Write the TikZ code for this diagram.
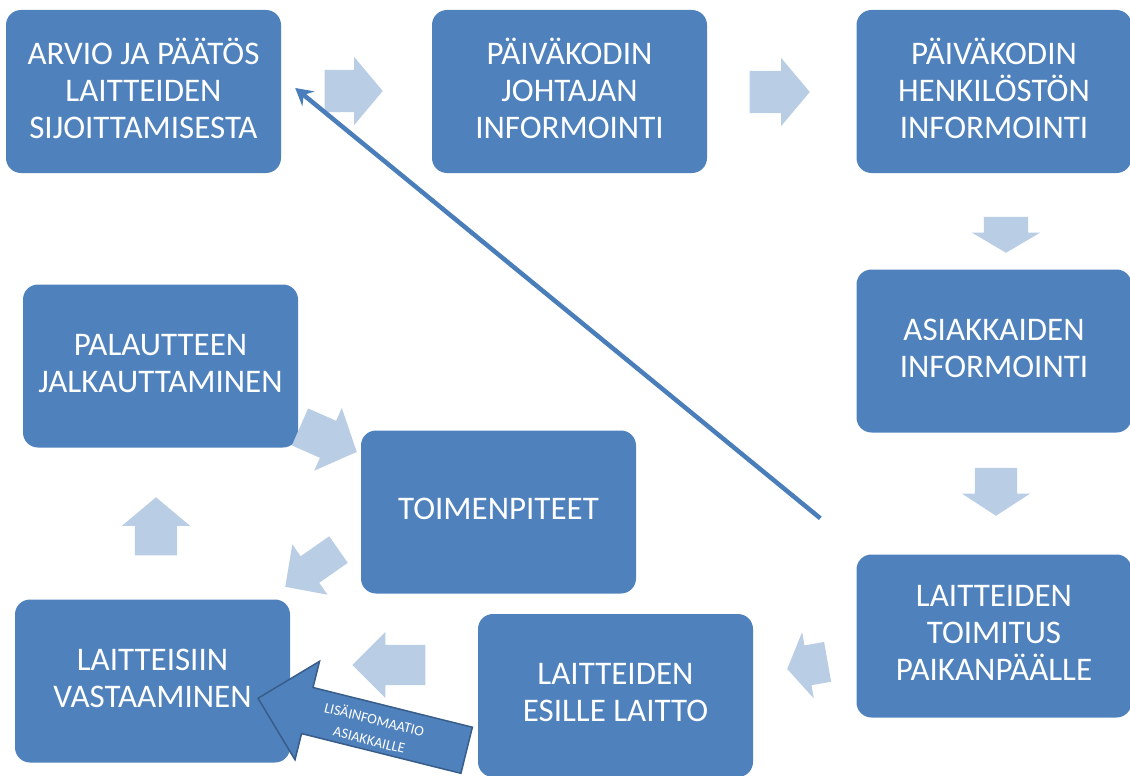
\documentclass[tikz,border=0pt]{standalone}
\usepackage{fontspec}
\setmainfont{Carlito}
\usetikzlibrary{positioning,calc,shapes.arrows,arrows.meta}
\definecolor{boxblue}{HTML}{4F81BD}
\definecolor{flowblue}{HTML}{B9CDE5}
\definecolor{edgeblue}{HTML}{385D8A}
\definecolor{lineblue}{HTML}{4A7EBB}

\begin{document}
\begin{tikzpicture}[x=1pt, y=-1pt,
        stepbox/.style={rectangle, rounded corners=15pt, fill=boxblue, text=white,
            minimum width=275pt, minimum height=163pt, align=center,
            text depth=6pt, font=\fontsize{33}{37}\selectfont},
        flow/.style={single arrow, fill=flowblue, anchor=tip, inner xsep=0pt,
            inner ysep=21pt, single arrow head extend=13pt,
            single arrow tip angle=100, minimum height=58pt}]
    \useasboundingbox (0,0) rectangle (1130,776);

    % the steps
    \node [stepbox] (arvio) at (143.5,91.5) {ARVIO JA PÄÄTÖS\\LAITTEIDEN\\SIJOITTAMISESTA};
    \node [stepbox] (johtaja) at (569.5,91.5) {PÄIVÄKODIN\\JOHTAJAN\\INFORMOINTI};
    \node [stepbox] (henkilosto) at (994,91.5) {PÄIVÄKODIN\\HENKILÖSTÖN\\INFORMOINTI};
    \node [stepbox] (asiakkaat) at (994,351) {ASIAKKAIDEN\\INFORMOINTI};
    \node [stepbox] (toimitus) at (994,636) {LAITTEIDEN\\TOIMITUS\\PAIKANPÄÄLLE};
    \node [stepbox] (esille) at (615.5,695.5) {LAITTEIDEN\\ESILLE LAITTO};
    \node [stepbox] (vastaaminen) at (152.5,681) {LAITTEISIIN\\VASTAAMINEN};
    \node [stepbox] (palaute) at (160.5,366) {PALAUTTEEN\\JALKAUTTAMINEN};
    \node [stepbox] (toimenpiteet) at (498.5,512) {TOIMENPITEET};

    % light arrows between the steps
    \node [flow] (f1) at (383,91) {};
    \node [flow, minimum height=60pt] (f2) at (810,92) {};
    \node [flow, rotate=-90, minimum height=36pt, inner ysep=22pt,
        single arrow head extend=12pt, single arrow tip angle=119] (f3) at (1006,253) {};
    \node [flow, rotate=-90, minimum height=48pt, single arrow tip angle=114] (f4) at (996,516) {};
    \node [flow, rotate=190, minimum height=41pt, inner ysep=20pt,
        single arrow head extend=13.5pt, single arrow tip angle=116] (f5) at (787,669) {};
    \node [flow, rotate=180, minimum height=73pt, inner ysep=20pt,
        single arrow tip angle=90] (f6) at (352,665) {};
    \node [flow, rotate=90] (f7) at (156,497) {};
    \node [flow, rotate=-23.7, minimum height=62pt, inner ysep=20pt,
        single arrow head extend=14pt, single arrow tip angle=95] (f8) at (357,452) {};
    \node [flow, rotate=215, minimum height=65pt, inner ysep=16pt,
        single arrow head extend=14.5pt, single arrow tip angle=91] (f9) at (285,587) {};

    % extra info to the customers
    \node [flow, fill=boxblue, draw=edgeblue, line width=1.5pt, rotate=166,
        minimum height=215pt, inner ysep=23pt, single arrow head extend=27pt,
        single arrow tip angle=90] (lisa) at (257,698) {};
    \node [rotate=-14, text=white, align=center,
        font=\fontsize{14.5}{21}\selectfont] (lisateksti) at (372,729)
        {LISÄINFOMAATIO\\ASIAKKAILLE};

    % back to the start
    \coordinate (paluu) at ([shift={(-36pt,36pt)}]toimitus.north west);
    \draw [lineblue, line width=4.5pt, -{Stealth[length=17pt, width=19pt, inset=6pt]}]
        (paluu) -- ([shift={(14pt,3.5pt)}]arvio.east);
\end{tikzpicture}
\end{document}
